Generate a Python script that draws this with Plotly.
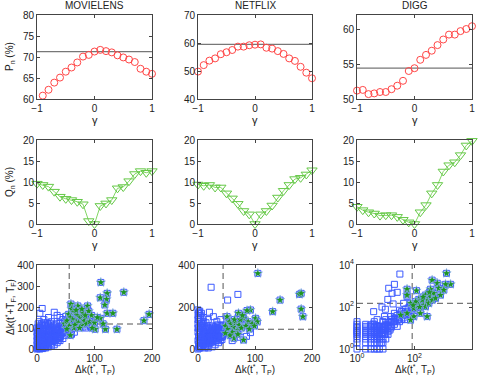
import plotly.graph_objects as go

# --- data ---
GAMMA_20 = [-0.9, -0.8, -0.7, -0.6, -0.5, -0.4, -0.3, -0.2, -0.1, 0.0,
            0.1, 0.2, 0.3, 0.4, 0.5, 0.6, 0.7, 0.8, 0.9, 1.0]
GAMMA_21 = [-1.0] + GAMMA_20

P_MOVIELENS = [60.8, 62.2, 63.9, 65.1, 66.5, 67.5, 68.7, 70.1, 70.5, 71.3,
               71.7, 71.4, 71.1, 70.4, 69.9, 69.4, 68.8, 67.2, 66.5, 66.0]
P_NETFLIX = [49.8, 52.1, 53.7, 54.5, 56.0, 56.7, 57.5, 58.7, 58.7, 59.2, 59.4,
             59.5, 58.3, 58.0, 57.1, 56.1, 54.5, 53.6, 51.5, 49.4, 47.4]
P_DIGG = [51.2, 51.3, 50.7, 50.8, 51.0, 51.0, 51.4, 51.9, 52.6, 54.0, 54.4,
          55.6, 56.3, 56.9, 57.7, 58.5, 59.2, 59.2, 59.7, 60.0, 60.4]
P_BASE = [71.3, 59.5, 54.4]

Q_MOVIELENS = [9.6, 9.3, 8.9, 7.7, 6.5, 6.0, 5.7, 5.3, 4.7, 0.7, 0.0,
               4.3, 4.9, 5.7, 8.5, 8.8, 10.2, 11.9, 12.6, 12.2, 12.6]
Q_NETFLIX = [9.4, 9.1, 9.3, 8.7, 8.7, 7.3, 6.1, 4.8, 3.1, 2.3, 0.0,
             2.3, 3.1, 4.4, 6.3, 7.9, 9.3, 10.7, 11.0, 11.8, 12.8]
Q_DIGG = [4.1, 3.3, 2.8, 2.5, 2.0, 2.1, 2.1, 1.7, 1.0, 0.4, 0.0,
          2.8, 4.5, 7.3, 9.3, 12.5, 14.0, 14.7, 16.4, 18.7, 19.8]

# scatter panels: (dk(t*,Tp), dk(t*+Tf,Tf)); green = top items
ML_BLUE = [(0, 0), (1, 5), (2, 10), (3, 3), (4, 20), (5, 12), (6, 30), (7, 8), (8, 25), (9, 40),
           (10, 15), (11, 50), (12, 35), (13, 22), (14, 60), (15, 45), (16, 30), (17, 70), (18, 55),
           (19, 40), (20, 80), (21, 62), (22, 48), (23, 90), (24, 70), (25, 55), (26, 100), (27, 78),
           (28, 60), (29, 110), (30, 85), (31, 68), (32, 95), (33, 75), (34, 120), (35, 88), (36, 70),
           (37, 105), (38, 80), (40, 125), (42, 95), (44, 110), (46, 85), (48, 130), (50, 100),
           (0, 20), (0, 40), (0, 60), (1, 30), (2, 50), (3, 70), (4, 45), (5, 80), (6, 55), (7, 90),
           (8, 65), (10, 100), (12, 85), (3, 15), (5, 0), (10, 2), (15, 5), (20, 10), (25, 15),
           (30, 20), (35, 30), (40, 40), (45, 50), (8, 3), (18, 12), (28, 35), (2, 90), (4, 110),
           (1, 75), (14, 110), (20, 115), (24, 120), (16, 95), (11, 75), (6, 15), (9, 60), (13, 45),
           (2, 2), (4, 8), (6, 4), (8, 14), (10, 25), (12, 18), (14, 30), (16, 22), (18, 38),
           (20, 30), (22, 55), (24, 40), (26, 65), (28, 50), (30, 75), (32, 60), (34, 90), (36, 50),
           (38, 95), (40, 70), (42, 110), (44, 85), (46, 100), (3, 40), (5, 55), (7, 70), (9, 85),
           (11, 95), (13, 105), (15, 115), (17, 100), (19, 110), (21, 90), (23, 105), (25, 85),
           (27, 95), (29, 80), (31, 115), (33, 100), (2, 120), (4, 130), (6, 100), (8, 120),
           (10, 115), (12, 125), (0, 100), (0, 80), (1, 50), (3, 100), (5, 65), (7, 45), (9, 30),
           (11, 20), (13, 8), (15, 15), (17, 25), (19, 20), (21, 35), (23, 25), (25, 35), (27, 45),
           (29, 40), (31, 50), (33, 45), (35, 60), (37, 40), (39, 50), (41, 60), (43, 75), (45, 80),
           (47, 95),
           (5, 170), (9, 193), (12, 140), (20, 150), (30, 175), (35, 160), (40, 150), (25, 130),
           (18, 125), (45, 140), (55, 90), (60, 70), (65, 80), (70, 110), (80, 105), (85, 100),
           (93, 106), (75, 130), (60, 140), (50, 155), (95, 110), (38, 55), (42, 70), (47, 65)]
ML_GREEN = [(111, 317), (122, 265), (151, 270), (110, 244), (121, 237), (118, 210), (122, 170),
            (132, 170), (186, 135), (195, 165), (139, 94), (119, 94), (110, 146), (101, 94),
            (59, 214), (71, 205), (88, 205), (60, 190), (65, 175), (70, 160), (75, 150), (80, 170),
            (85, 140), (90, 180), (95, 160), (55, 165), (58, 150), (62, 140), (68, 130), (72, 125),
            (78, 115), (82, 135), (48, 120), (52, 135), (56, 110), (64, 100), (66, 115), (74, 100),
            (86, 120), (92, 130), (100, 125), (105, 150), (115, 120), (58, 65), (52, 95), (96, 100),
            (68, 185), (78, 190), (84, 160)]

NF_BLUE = [(0, 0), (1, 10), (2, 25), (3, 5), (4, 40), (5, 15), (6, 55), (7, 30), (8, 70), (9, 20),
           (10, 85), (11, 45), (12, 60), (13, 10), (14, 75), (15, 35), (16, 90), (17, 50), (18, 65),
           (19, 25), (20, 80), (21, 100), (22, 40), (23, 60), (24, 90), (25, 70), (26, 110),
           (27, 50), (28, 80), (29, 95), (30, 65), (31, 105), (32, 85), (33, 55), (34, 115),
           (35, 75), (36, 95), (38, 60), (40, 105), (42, 80), (44, 115), (0, 40), (0, 80), (0, 120),
           (0, 160), (0, 186), (1, 140), (2, 175), (1, 100), (3, 130), (2, 60), (4, 100), (5, 150),
           (3, 80), (6, 120), (8, 110), (7, 95), (10, 130), (12, 5), (18, 5), (25, 10), (30, 20),
           (36, 30), (42, 45), (9, 150), (14, 125), (6, 170),
           (2, 5), (4, 15), (6, 10), (8, 30), (10, 20), (12, 40), (14, 25), (16, 55), (18, 45),
           (20, 60), (22, 75), (24, 50), (26, 85), (28, 65), (30, 90), (32, 70), (34, 95), (36, 60),
           (38, 85), (40, 75), (42, 95), (44, 100), (1, 60), (3, 90), (5, 110), (7, 120), (9, 100),
           (11, 110), (13, 95), (15, 105), (17, 80), (19, 100), (21, 70), (23, 80), (25, 95),
           (27, 105), (29, 75), (31, 85), (33, 100), (35, 110), (37, 90), (39, 100), (41, 65),
           (43, 85), (1, 25), (3, 45), (5, 35), (7, 50), (9, 65), (11, 30), (13, 70), (15, 55),
           (17, 15), (19, 45), (21, 55), (23, 30), (25, 45), (27, 35), (29, 55), (31, 40), (33, 70),
           (35, 50), (37, 70), (39, 40), (41, 55), (43, 60), (0, 100), (0, 140), (1, 170), (2, 150),
           (4, 160), (3, 180),
           (23, 294), (70, 260), (52, 233), (20, 175), (27, 154), (33, 130), (92, 78), (74, 56),
           (51, 90), (60, 40), (85, 60), (40, 140), (18, 140)]
NF_GREEN = [(105, 360), (178, 260), (181, 265), (144, 233), (131, 178), (181, 190), (184, 154),
            (92, 186), (86, 183), (71, 170), (80, 146), (88, 130), (101, 146), (104, 130), (80, 43),
            (63, 51), (68, 90), (51, 154), (55, 130), (48, 110), (52, 95), (58, 120), (62, 105),
            (66, 125), (72, 115), (76, 100), (84, 110), (95, 120), (60, 80), (70, 70), (56, 65),
            (48, 75), (64, 140), (74, 140), (90, 95), (99, 110), (78, 160)]

DG_BLUE = [(1, 1), (1, 2), (1, 3), (1, 4), (1, 5), (1, 6), (1, 8), (1, 10), (1, 15), (1, 20),
           (2, 1), (2, 2), (2, 3), (2, 4), (2, 5), (2, 6), (2, 8), (2, 10), (2, 12),
           (3, 1), (3, 2), (3, 3), (3, 4), (3, 5), (3, 6), (3, 8), (3, 10), (3, 14),
           (4, 1), (4, 2), (4, 3), (4, 4), (4, 5), (4, 6), (4, 8), (4, 10), (4, 20),
           (5, 1), (5, 2), (5, 3), (5, 5), (5, 6), (5, 8), (5, 12), (6, 2), (6, 3), (6, 5),
           (6, 8), (6, 10), (8, 3), (8, 5), (8, 8), (8, 12), (8, 20), (10, 5), (10, 8), (10, 15),
           (10, 25), (12, 10), (15, 10), (15, 20), (15, 35), (20, 15), (20, 30), (20, 50),
           (25, 25), (30, 20), (30, 40), (30, 70), (40, 30), (40, 60), (50, 40), (50, 80),
           (60, 60), (70, 100), (80, 70), (100, 120), (120, 100), (150, 200), (200, 150),
           (250, 300), (300, 250), (400, 500), (7, 4), (12, 18), (25, 12), (35, 45), (45, 25),
           (1, 7), (1, 12), (2, 7), (2, 15), (3, 7), (3, 12), (4, 7), (4, 12), (4, 15), (5, 4),
           (5, 7), (5, 10), (6, 1), (6, 4), (6, 6), (6, 12), (7, 2), (7, 6), (7, 8), (7, 12),
           (8, 1), (8, 2), (8, 6), (8, 10), (9, 5), (9, 8), (9, 12), (10, 3), (10, 10), (10, 12),
           (12, 5), (12, 7), (12, 14), (14, 8), (14, 12), (14, 20), (16, 12), (16, 25), (18, 20),
           (20, 20), (22, 30), (25, 40), (28, 30), (35, 25), (35, 60), (45, 50), (60, 45),
           (60, 90), (80, 100), (90, 80),
           (31, 3700), (20, 1200), (12.7, 780), (16.6, 450), (11.8, 230), (7.4, 100), (3.8, 60),
           (3.6, 15.5), (9.7, 78), (42, 150), (55, 310), (25, 500), (18, 140), (9, 35), (5, 25)]
DG_GREEN = [(1300, 4000), (1800, 1200), (1200, 1200), (410, 1900), (620, 1350), (700, 780),
            (360, 700), (117, 600), (55, 700), (140, 230), (240, 370), (210, 125), (160, 50),
            (73, 150), (55, 50), (33, 41), (275, 215), (360, 310), (470, 440), (95, 86),
            (124, 150), (185, 215), (240, 104), (315, 150), (415, 215), (540, 260), (800, 370),
            (1050, 650), (275, 35), (95, 35), (73, 24), (55, 370), (150, 100), (200, 300),
            (110, 180), (330, 500), (90, 120)]
SC_LINES = [(56, 119), (44, 94), (83, 150)]  # dashed guide lines (x, y)

TITLES = ["MOVIELENS", "NETFLIX", "DIGG"]

W, H = 478, 378
COLS = [(37, 152), (198, 312), (357, 472)]
ROWS = [(15, 99), (140, 224), (265, 349)]

RED = "rgb(255,70,70)"
LGREEN = "rgb(100,200,70)"
BLUE = "rgb(60,90,255)"
GREEN = "rgb(30,150,30)"
FONT = "Liberation Sans, Arial, sans-serif"


def px(x):
    return x / W


def py(y):
    return 1 - y / H


def split(pairs):
    return [p[0] for p in pairs], [p[1] for p in pairs]


fig = go.Figure()
axis_common = dict(showgrid=False, zeroline=False, showline=True, mirror="ticks",
                   linecolor="#444", linewidth=1, ticks="inside", ticklen=3,
                   tickcolor="#444", tickfont=dict(size=10, color="#222", family=FONT),
                   automargin=False)

layout = {}
k = 0
for r in range(3):
    for c in range(3):
        k += 1
        xa = "xaxis" if k == 1 else f"xaxis{k}"
        ya = "yaxis" if k == 1 else f"yaxis{k}"
        xr = "x" if k == 1 else f"x{k}"
        yr = "y" if k == 1 else f"y{k}"
        layout[xa] = dict(axis_common, domain=[px(COLS[c][0]), px(COLS[c][1])], anchor=yr)
        layout[ya] = dict(axis_common, domain=[py(ROWS[r][1]), py(ROWS[r][0])], anchor=xr)

# row 1 : P_n
p_series = [(GAMMA_20, P_MOVIELENS), (GAMMA_21, P_NETFLIX), (GAMMA_21, P_DIGG)]
p_ranges = [[60, 80], [40, 70], [50, 62]]
p_ticks = [[60, 65, 70, 75, 80], [40, 50, 60, 70], [50, 55, 60]]
for c in range(3):
    k = c + 1
    xr = "x" if k == 1 else f"x{k}"
    yr = "y" if k == 1 else f"y{k}"
    fig.add_trace(go.Scatter(x=[-1, 1], y=[P_BASE[c]] * 2, mode="lines",
                             line=dict(color="#777", width=1.3), xaxis=xr, yaxis=yr,
                             showlegend=False))
    gx, gy = p_series[c]
    fig.add_trace(go.Scatter(x=gx, y=gy, mode="markers", xaxis=xr, yaxis=yr, showlegend=False,
                             cliponaxis=False,
                             marker=dict(symbol="circle-open", size=7, color=RED,
                                         line=dict(width=1))))
    layout["xaxis" if k == 1 else f"xaxis{k}"].update(range=[-1, 1], tickvals=[-1, 0, 1],
                                                      ticktext=["\u22121", "0", "1"])
    layout["yaxis" if k == 1 else f"yaxis{k}"].update(range=p_ranges[c], tickvals=p_ticks[c])

# row 2 : Q_n
q_series = [Q_MOVIELENS, Q_NETFLIX, Q_DIGG]
for c in range(3):
    k = c + 4
    fig.add_trace(go.Scatter(x=GAMMA_21, y=q_series[c], mode="lines+markers",
                             xaxis=f"x{k}", yaxis=f"y{k}", showlegend=False, cliponaxis=False,
                             line=dict(color="rgb(130,215,100)", width=1),
                             marker=dict(symbol="triangle-down-open", size=9, color=LGREEN,
                                         line=dict(width=1))))
    layout[f"xaxis{k}"].update(range=[-1, 1], tickvals=[-1, 0, 1], ticktext=["\u22121", "0", "1"])
    layout[f"yaxis{k}"].update(range=[0, 20], tickvals=[0, 5, 10, 15, 20])

# row 3 : scatter
sc = [(ML_BLUE, ML_GREEN), (NF_BLUE, NF_GREEN), (DG_BLUE, DG_GREEN)]
for c in range(3):
    k = c + 7
    blue, green = sc[c]
    bx, by = split(blue + green)
    gx, gy = split(green)
    if c < 2:
        x_lo, x_hi, y_lo, y_hi = 0, 200, 0, 400
    else:
        x_lo, x_hi, y_lo, y_hi = 1, 10000, 1, 10000
    lx, ly = SC_LINES[c]
    fig.add_trace(go.Scatter(x=[lx, lx], y=[y_lo, y_hi], mode="lines", xaxis=f"x{k}",
                             yaxis=f"y{k}", showlegend=False,
                             line=dict(color="#555", width=1, dash="6px,4px")))
    fig.add_trace(go.Scatter(x=[x_lo, x_hi], y=[ly, ly], mode="lines", xaxis=f"x{k}",
                             yaxis=f"y{k}", showlegend=False,
                             line=dict(color="#555", width=1, dash="6px,4px")))
    fig.add_trace(go.Scatter(x=bx, y=by, mode="markers", xaxis=f"x{k}", yaxis=f"y{k}",
                             showlegend=False, cliponaxis=False,
                             marker=dict(symbol="square-open", size=6, color=BLUE,
                                         line=dict(width=1))))
    fig.add_trace(go.Scatter(x=gx, y=gy, mode="markers", xaxis=f"x{k}", yaxis=f"y{k}",
                             showlegend=False, cliponaxis=False,
                             marker=dict(symbol="star", size=7, color=GREEN,
                                         line=dict(color="rgb(140,170,255)", width=0.6))))
    if c < 2:
        layout[f"xaxis{k}"].update(range=[0, 200], tickvals=[0, 100, 200])
        yt = [0, 100, 200, 300, 400] if c == 0 else [0, 200, 400]
        layout[f"yaxis{k}"].update(range=[0, 400], tickvals=yt)
    else:
        logt = [1, 100, 10000]
        logl = ["10<sup>0</sup>", "10<sup>2</sup>", "10<sup>4</sup>"]
        layout[f"xaxis{k}"].update(type="log", range=[0, 4], tickvals=logt, ticktext=logl)
        layout[f"yaxis{k}"].update(type="log", range=[0, 4], tickvals=logt, ticktext=logl)

# text: titles and axis labels
ann = []
lab_font = dict(size=10, color="#222", family=FONT)
for c in range(3):
    cx = (COLS[c][0] + COLS[c][1]) / 2
    ann.append(dict(x=px(cx), y=py(5), text=TITLES[c], showarrow=False, font=lab_font))
    ann.append(dict(x=px(cx), y=py(120), text="\u03b3", showarrow=False, font=dict(lab_font, size=11)))
    ann.append(dict(x=px(cx), y=py(245), text="\u03b3", showarrow=False, font=dict(lab_font, size=11)))
    ann.append(dict(x=px(cx), y=py(369), text="\u0394k(t<sup>*</sup>, T<sub>P</sub>)",
                    showarrow=False, font=lab_font))
ann.append(dict(x=px(10), y=py(57), text="P<sub>n</sub> (%)", textangle=-90,
                showarrow=False, font=lab_font))
ann.append(dict(x=px(10), y=py(182), text="Q<sub>n</sub> (%)", textangle=-90,
                showarrow=False, font=lab_font))
ann.append(dict(x=px(10), y=py(307), text="\u0394k(t<sup>*</sup>+T<sub>F</sub>, T<sub>F</sub>)",
                textangle=-90, showarrow=False, font=lab_font))
for a in ann:
    a.update(xref="paper", yref="paper", xanchor="center", yanchor="middle")

fig.update_layout(width=W, height=H, margin=dict(l=0, r=0, t=0, b=0),
                  paper_bgcolor="white", plot_bgcolor="white",
                  font=dict(family=FONT), annotations=ann, **layout)

# the page's default body margin would push the figure off the window
fig.write_html("out.html", config={"displayModeBar": False},
               post_script="document.body.style.margin='0';")
